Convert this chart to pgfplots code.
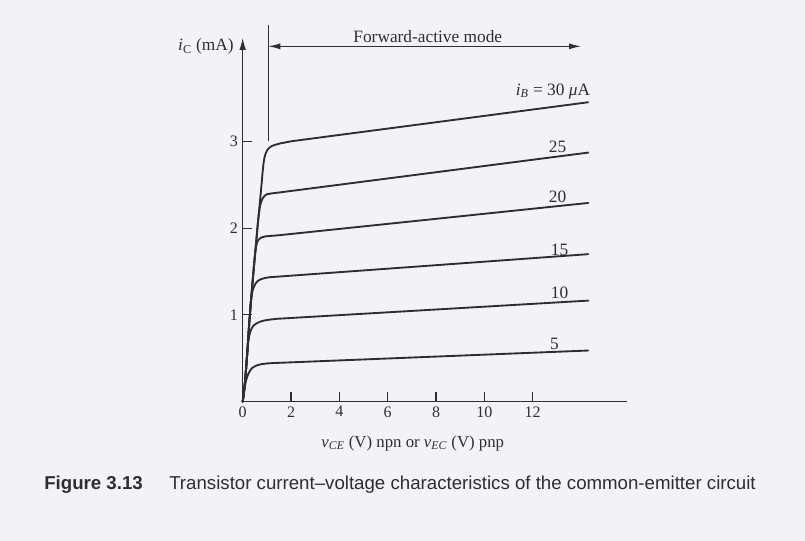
\documentclass[border=0pt]{standalone}
\usepackage{fontspec}
\setmainfont{Liberation Serif}
\setsansfont{Liberation Sans}
\usepackage{pgfplots}
\pgfplotsset{compat=1.18}
\usetikzlibrary{arrows.meta}
\definecolor{bg}{RGB}{243,242,247}
\definecolor{ink}{RGB}{45,45,50}

\begin{document}
\begin{tikzpicture}
% page: 805 x 541 px at 0.75pt per px
\fill[bg] (0,0) rectangle (603.75pt,-405.75pt);
\begin{axis}[
  at={(182.0pt,-301.3pt)}, anchor=south west,
  scale only axis, width=288.2pt, height=272.8pt,
  xmin=0, xmax=15.9, ymin=0, ymax=4.19,
  axis x line*=bottom, axis y line*=left,
  x axis line style={-, ink, line width=0.9pt},
  y axis line style={-{Latex[length=9pt,width=5pt]}, ink, line width=0.9pt},
  tick align=inside, major tick length=7pt,
  tick style={ink, line width=0.8pt},
  xtick={0,2,...,12}, ytick={1,2,3},
  tick label style={font=\fontsize{12pt}{14pt}\selectfont, text=ink},
  /pgf/number format/assume math mode=true,
  clip=false,
  curve/.style={ink, line width=1.4pt, line join=round, line cap=round, mark=none},
]
% i_B = 5 uA
\addplot[curve] coordinates {(0,0) (0.03,0.06) (0.06,0.12) (0.1,0.19) (0.14,0.245) (0.19,0.29) (0.25,0.33) (0.32,0.365) (0.4,0.39) (0.5,0.408) (0.62,0.422) (0.78,0.433) (1.0,0.441) (1.3,0.446) (14.3,0.59)};
% i_B = 10 uA
\addplot[curve] coordinates {(0,0) (0.03,0.06) (0.06,0.13) (0.1,0.24) (0.13,0.34) (0.16,0.45) (0.2,0.6) (0.23,0.69) (0.27,0.76) (0.32,0.81) (0.38,0.85) (0.46,0.88) (0.56,0.9) (0.7,0.92) (0.88,0.935) (1.1,0.945) (1.4,0.955) (14.3,1.165)};
% i_B = 15 uA
\addplot[curve] coordinates {(0,0) (0.03,0.06) (0.06,0.13) (0.1,0.24) (0.13,0.34) (0.16,0.45) (0.2,0.6) (0.27,0.9) (0.34,1.15) (0.37,1.22) (0.41,1.28) (0.46,1.32) (0.53,1.36) (0.62,1.39) (0.74,1.41) (0.9,1.424) (1.1,1.434) (1.5,1.442) (14.3,1.70)};
% i_B = 20 uA
\addplot[curve] coordinates {(0,0) (0.03,0.06) (0.06,0.13) (0.1,0.24) (0.13,0.34) (0.16,0.45) (0.2,0.6) (0.27,0.9) (0.34,1.15) (0.41,1.38) (0.48,1.6) (0.52,1.72) (0.55,1.78) (0.59,1.83) (0.64,1.86) (0.71,1.88) (0.8,1.895) (0.95,1.905) (1.15,1.91) (1.5,1.918) (14.3,2.29)};
% i_B = 25 uA
\addplot[curve] coordinates {(0,0) (0.03,0.06) (0.06,0.13) (0.1,0.24) (0.13,0.34) (0.16,0.45) (0.2,0.6) (0.27,0.9) (0.34,1.15) (0.41,1.38) (0.48,1.6) (0.55,1.81) (0.62,2.03) (0.66,2.14) (0.7,2.22) (0.75,2.29) (0.82,2.34) (0.9,2.37) (1.0,2.39) (1.2,2.4) (1.5,2.41) (14.3,2.87)};
% i_B = 30 uA
\addplot[curve] coordinates {(0,0) (0.03,0.06) (0.06,0.13) (0.1,0.24) (0.13,0.34) (0.16,0.45) (0.2,0.6) (0.27,0.9) (0.34,1.15) (0.41,1.38) (0.48,1.6) (0.55,1.81) (0.62,2.03) (0.7,2.26) (0.78,2.5) (0.82,2.63) (0.86,2.74) (0.9,2.81) (0.95,2.86) (1.02,2.9) (1.1,2.925) (1.2,2.945) (1.35,2.96) (1.55,2.975) (2.0,3.0) (14.3,3.45)};

% forward-active mode marker
\draw[ink, line width=0.9pt] (axis cs:1.06,3.0) -- (axis cs:1.06,4.345);
\draw[ink, line width=0.8pt, {Latex[length=9pt,width=4.5pt]}-{Latex[length=9pt,width=4.5pt]}]
  (axis cs:1.06,4.094) -- (axis cs:14.0,4.094);
\node[text=ink, font=\fontsize{13pt}{15pt}\selectfont] at (axis cs:7.66,4.21) {Forward-active mode};

% curve labels
\begin{scope}[every node/.style={text=ink, font=\fontsize{13pt}{15pt}\selectfont}]
\node at (axis cs:12.84,3.575) {\textit{i}\textsubscript{\textit{B}} = 30 \textit{μ}A};
\node at (axis cs:13.03,2.94) {25};
\node at (axis cs:13.03,2.365) {20};
\node at (axis cs:13.11,1.75) {15};
\node at (axis cs:13.11,1.25) {10};
\node at (axis cs:12.9,0.665) {5};
\node at (axis cs:-1.52,4.09) {\textit{i}\textsubscript{C} (mA)};
\node[font=\fontsize{12.6pt}{15pt}\selectfont] at (axis cs:7.04,-0.48) {\textit{v}\textsubscript{\textit{CE}} (V) npn or \textit{v}\textsubscript{\textit{EC}} (V) pnp};
\end{scope}
\end{axis}
% caption
\node[anchor=west, inner sep=0pt, text=ink, font=\sffamily\bfseries\fontsize{14pt}{16pt}\selectfont] at (33pt,-363.75pt) {Figure 3.13};
\node[anchor=west, inner sep=0pt, text=ink, font=\sffamily\fontsize{14pt}{16pt}\selectfont] at (126.75pt,-363.75pt) {Transistor current–voltage characteristics of the common-emitter circuit};
\end{tikzpicture}
\end{document}
